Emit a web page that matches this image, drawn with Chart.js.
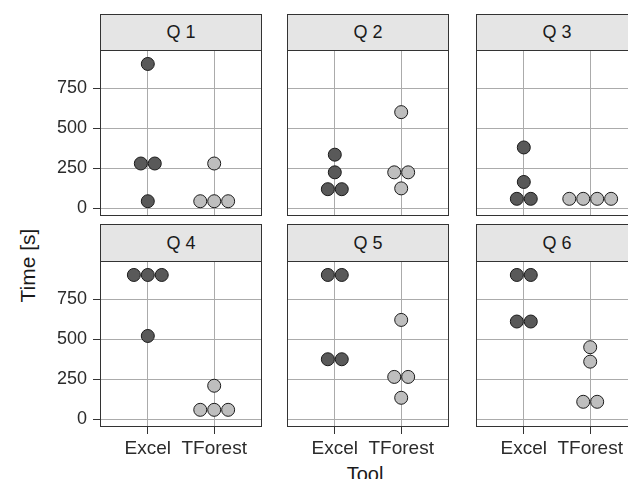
<!DOCTYPE html>
<html>
<head>
<meta charset="utf-8">
<script src="https://cdn.jsdelivr.net/npm/chart.js@4.4.1/dist/chart.umd.min.js"></script>
<style>
  body { margin: 0; width: 628px; height: 479px; overflow: hidden; background: #fff; position: relative; font-family: "Liberation Sans", Arial, sans-serif; }
  .strip { position: absolute; box-sizing: border-box; border: 1px solid #333; background: #e5e5e5; color: #1a1a1a; font-size: 18px; display: flex; align-items: center; justify-content: center; }
  canvas { position: absolute; }
  .title { position: absolute; color: #1a1a1a; white-space: nowrap; text-align: center; }
</style>
</head>
<body>
<div class="title" style="left:-18px; top:255px; width:90px; font-size:21px; line-height:21px; transform: rotate(-90deg);">Time [s]</div>
<div class="title" style="left:325px; top:464px; width:80px; font-size:20px; line-height:20px;">Tool</div>
<script>
// facets and tools
const questions = ['Q 1', 'Q 2', 'Q 3', 'Q 4', 'Q 5', 'Q 6'];
const toolLabels = ['Excel', 'TForest'];

// time in seconds, one list per question
const excelTimes = [
  [900, 280, 280, 45],
  [335, 225, 120, 120],
  [380, 165, 60, 60],
  [900, 900, 900, 520],
  [900, 900, 375, 375],
  [900, 900, 610, 610]
];
const tforestTimes = [
  [280, 45, 45, 45],
  [600, 225, 225, 125],
  [60, 60, 60, 60],
  [210, 60, 60, 60],
  [620, 265, 265, 135],
  [450, 360, 110, 110]
];

const yTicks = [0, 250, 500, 750];

// panel layout
const colLeft = [100, 287, 476];
const panelW = 162;
const stripTop = [14, 224];
const plotTop = [50, 261];
const plotH = 166;
const dotStep = 0.21;  // width of one dot in x units, for side by side stacking

// put equal values next to each other, centred on the tool
function dodge(values, x) {
  const counts = {};
  values.forEach(v => counts[v] = (counts[v] || 0) + 1);
  const seen = {};
  return values.map(v => {
    const i = seen[v] || 0;
    seen[v] = i + 1;
    return { x: x + (i - (counts[v] - 1) / 2) * dotStep, y: v };
  });
}

const panelBorder = {
  id: 'panelBorder',
  afterDraw(chart) {
    const a = chart.chartArea;
    const ctx = chart.ctx;
    ctx.save();
    ctx.strokeStyle = '#333';
    ctx.lineWidth = 1;
    ctx.strokeRect(a.left + 0.5, a.top + 0.5, a.right - a.left - 1, a.bottom - a.top - 1);
    ctx.restore();
  }
};

Chart.defaults.font.family = '"Liberation Sans", Arial, sans-serif';

questions.forEach((q, i) => {
  const row = Math.floor(i / 3), col = i % 3;
  const first = col === 0, bottom = row === 1;

  const strip = document.createElement('div');
  strip.className = 'strip';
  strip.textContent = q;
  strip.style.left = colLeft[col] + 'px';
  strip.style.top = stripTop[row] + 'px';
  strip.style.width = panelW + 'px';
  strip.style.height = (plotTop[row] - stripTop[row] + 1) + 'px';
  document.body.appendChild(strip);

  const yw = first ? 100 : 0;
  const xh = bottom ? 50 : 0;
  const canvas = document.createElement('canvas');
  const w = yw + panelW + 2 + (first ? 0 : 2);
  const h = 2 + plotH + xh + (bottom ? 0 : 2);
  canvas.width = w; canvas.height = h;
  canvas.style.width = w + 'px'; canvas.style.height = h + 'px';
  canvas.style.left = (colLeft[col] - yw - (first ? 0 : 2)) + 'px';
  canvas.style.top = (plotTop[row] - 2) + 'px';
  document.body.appendChild(canvas);

  new Chart(canvas, {
    type: 'scatter',
    data: {
      datasets: [
        { data: dodge(excelTimes[i], 1), backgroundColor: '#595959', borderColor: '#1a1a1a', borderWidth: 1, pointRadius: 6.5 },
        { data: dodge(tforestTimes[i], 2), backgroundColor: '#bebebe', borderColor: '#1a1a1a', borderWidth: 1, pointRadius: 6.5 }
      ]
    },
    options: {
      responsive: false,
      animation: false,
      layout: { autoPadding: false, padding: { left: first ? 0 : 2, right: 2, top: 2, bottom: bottom ? 0 : 2 } },
      plugins: { legend: { display: false }, tooltip: { enabled: false } },
      scales: {
        x: {
          type: 'linear', min: 0.28, max: 2.72,
          afterBuildTicks: s => { s.ticks = [{ value: 1 }, { value: 2 }]; },
          afterFit: s => { s.height = xh; s.paddingLeft = 0; s.paddingRight = 0; },
          ticks: { display: bottom, callback: v => toolLabels[v - 1], color: '#2b2b2b', font: { size: 19 }, padding: 3, maxRotation: 0 },
          grid: { color: '#ababab', drawTicks: bottom, tickLength: 7, tickColor: '#333' },
          border: { display: false }
        },
        y: {
          min: -47, max: 987,
          afterBuildTicks: s => { s.ticks = yTicks.map(v => ({ value: v })); },
          afterFit: s => { s.width = yw; s.paddingTop = 0; s.paddingBottom = 0; },
          ticks: { display: first, color: '#2b2b2b', font: { size: 18 }, padding: 6 },
          grid: { color: '#ababab', drawTicks: first, tickLength: 7, tickColor: '#333' },
          border: { display: false }
        }
      }
    },
    plugins: [panelBorder]
  });
});
</script>
</body>
</html>
